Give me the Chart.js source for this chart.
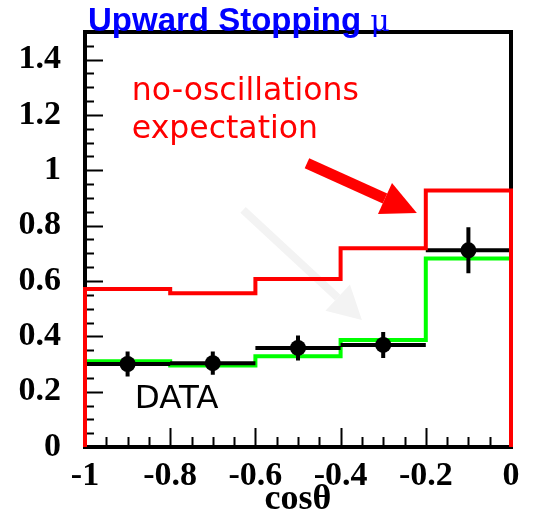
<!DOCTYPE html>
<html>
<head>
<meta charset="utf-8">
<script src="https://cdn.jsdelivr.net/npm/chart.js@4/dist/chart.umd.min.js"></script>
<style>
  html, body { margin: 0; padding: 0; background: #fff; }
</style>
</head>
<body>
<canvas id="chart" width="540" height="515"></canvas>
<script>
// Histogram bins in cos(theta)
const binEdges = [-1, -0.8, -0.6, -0.4, -0.2, 0];
const binCenters = [-0.9, -0.7, -0.5, -0.3, -0.1];

// Flux values per bin
const noOscValues = [0.571, 0.556, 0.607, 0.718, 0.927];
const oscValues = [0.31, 0.295, 0.328, 0.387, 0.681];
const dataValues = [0.30, 0.303, 0.358, 0.369, 0.711];
const dataErrors = [0.045, 0.042, 0.045, 0.047, 0.083];

// Axis ticks
const xTicks = [-1, -0.8, -0.6, -0.4, -0.2, 0];
const yTicks = [0, 0.2, 0.4, 0.6, 0.8, 1, 1.2, 1.4];

const serifFont = '"Liberation Serif", "DejaVu Serif", serif';
const sansFont = '"DejaVu Sans", "Liberation Sans", sans-serif';

// Build step outline for a histogram
function stepPoints(values, closed) {
  const pts = [];
  if (closed) pts.push({ x: binEdges[0], y: 0 });
  values.forEach((v, i) => {
    pts.push({ x: binEdges[i], y: v }, { x: binEdges[i + 1], y: v });
  });
  if (closed) pts.push({ x: binEdges[binEdges.length - 1], y: 0 });
  return pts;
}

// Separate horizontal bar per bin (gaps between)
function segmentPoints(values) {
  const pts = [];
  values.forEach((v, i) => {
    pts.push({ x: binEdges[i], y: v }, { x: binEdges[i + 1], y: v }, { x: binEdges[i + 1], y: null });
  });
  return pts;
}

function tickLabel(v) {
  return String(Math.round(v * 10) / 10);
}

function drawArrow(ctx, x1, y1, x2, y2, shaft, headLen, headHalf, color) {
  const ang = Math.atan2(y2 - y1, x2 - x1);
  const bx = x2 - headLen * Math.cos(ang);
  const by = y2 - headLen * Math.sin(ang);
  ctx.save();
  ctx.strokeStyle = color;
  ctx.fillStyle = color;
  ctx.lineWidth = shaft;
  ctx.beginPath();
  ctx.moveTo(x1, y1);
  ctx.lineTo(bx, by);
  ctx.stroke();
  ctx.beginPath();
  ctx.moveTo(x2, y2);
  ctx.lineTo(bx + headHalf * Math.sin(ang), by - headHalf * Math.cos(ang));
  ctx.lineTo(bx - headHalf * Math.sin(ang), by + headHalf * Math.cos(ang));
  ctx.closePath();
  ctx.fill();
  ctx.restore();
}

// Frame, inside ticks, annotations
const decorPlugin = {
  id: 'decor',
  beforeDatasetsDraw(chart) {
    const { ctx, chartArea: a, scales: { x, y } } = chart;
    ctx.save();
    ctx.strokeStyle = '#000';
    ctx.lineWidth = 4;
    ctx.strokeRect(a.left, a.top, a.right - a.left, a.bottom - a.top);

    ctx.lineWidth = 2;
    ctx.beginPath();
    for (let v = 0; v < 1.5; v += 0.05) {
      const major = Math.abs(v / 0.2 - Math.round(v / 0.2)) < 1e-6;
      const py = Math.round(y.getPixelForValue(v)) + 0.5;
      ctx.moveTo(a.left, py);
      ctx.lineTo(a.left + (major ? 18 : 9), py);
    }
    for (let v = -1; v <= 0.001; v += 0.05) {
      const major = Math.abs(v / 0.2 - Math.round(v / 0.2)) < 1e-6;
      const px = Math.round(x.getPixelForValue(v)) + 0.5;
      ctx.moveTo(px, a.bottom);
      ctx.lineTo(px, a.bottom - (major ? 19 : 10));
    }
    ctx.stroke();

    // faint oscillation arrow
    drawArrow(ctx, x.getPixelForValue(-0.629), y.getPixelForValue(0.857),
      x.getPixelForValue(-0.350), y.getPixelForValue(0.459), 8, 33, 18, '#f3f3f3');
    ctx.restore();
  },
  afterDatasetsDraw(chart) {
    const { ctx, chartArea: a, scales: { x, y } } = chart;
    ctx.save();
    // error bars
    ctx.strokeStyle = '#000';
    ctx.lineWidth = 4;
    ctx.beginPath();
    binCenters.forEach((c, i) => {
      const px = x.getPixelForValue(c);
      ctx.moveTo(px, y.getPixelForValue(dataValues[i] - dataErrors[i]));
      ctx.lineTo(px, y.getPixelForValue(dataValues[i] + dataErrors[i]));
    });
    ctx.stroke();

    // red arrow toward expectation
    drawArrow(ctx, x.getPixelForValue(-0.479), y.getPixelForValue(1.026),
      x.getPixelForValue(-0.221), y.getPixelForValue(0.846), 11, 35, 17, '#ff0000');

    ctx.textAlign = 'left';
    ctx.textBaseline = 'alphabetic';
    ctx.fillStyle = '#ff0000';
    ctx.font = '31.5px ' + sansFont;
    ctx.fillText('no-oscillations', x.getPixelForValue(-0.890), y.getPixelForValue(1.254));
    ctx.fillText('expectation', x.getPixelForValue(-0.890), y.getPixelForValue(1.117));

    ctx.fillStyle = '#000';
    ctx.font = '32.5px ' + sansFont;
    ctx.fillText('DATA', x.getPixelForValue(-0.883), y.getPixelForValue(0.141));

    // title
    ctx.fillStyle = '#0000ff';
    ctx.font = 'bold 33px "Liberation Sans", Arial, sans-serif';
    const t = 'Upward Stopping ';
    ctx.fillText(t, a.left + 3, a.top - 1);
    const tw = ctx.measureText(t).width;
    ctx.font = '30px "DejaVu Serif", serif';
    ctx.fillText('\u03bc', a.left + 3 + tw, a.top - 1);

    // x axis title
    ctx.fillStyle = '#000';
    ctx.textAlign = 'center';
    ctx.font = 'bold 36px ' + serifFont;
    ctx.fillText('cos\u03b8', (a.left + a.right) / 2, 509);
    ctx.restore();
  }
};

new Chart(document.getElementById('chart'), {
  type: 'line',
  data: {
    datasets: [
      {
        data: binCenters.map((c, i) => ({ x: c, y: dataValues[i] })),
        showLine: false,
        pointRadius: 8,
        pointBackgroundColor: '#000',
        pointBorderWidth: 0,
        order: 0,
        clip: false
      },
      {
        data: stepPoints(noOscValues, true),
        borderColor: '#ff0000',
        borderWidth: 4,
        pointRadius: 0,
        order: 1,
        clip: false
      },
      {
        data: segmentPoints(dataValues),
        borderColor: '#000',
        borderWidth: 4,
        pointRadius: 0,
        spanGaps: false,
        order: 2,
        clip: false
      },
      {
        data: stepPoints(oscValues, false),
        borderColor: '#00ff00',
        borderWidth: 4,
        pointRadius: 0,
        order: 3,
        clip: false
      }
    ]
  },
  options: {
    responsive: false,
    animation: false,
    devicePixelRatio: 1,
    layout: { padding: { top: 32, right: 29, left: 0, bottom: 0 } },
    plugins: { legend: { display: false }, tooltip: { enabled: false } },
    elements: { line: { tension: 0, borderJoinStyle: 'miter' } },
    scales: {
      x: {
        type: 'linear',
        min: -1,
        max: 0,
        grid: { display: false, drawTicks: false },
        border: { display: false },
        afterBuildTicks: axis => { axis.ticks = xTicks.map(v => ({ value: v })); },
        afterFit: axis => { axis.height = 68; axis.paddingLeft = 0; axis.paddingRight = 0; },
        ticks: {
          autoSkip: false,
          maxRotation: 0,
          padding: 9,
          color: '#000',
          callback: tickLabel,
          font: { family: serifFont, weight: 'bold', size: 34 }
        }
      },
      y: {
        min: 0,
        max: 1.5,
        grid: { display: false, drawTicks: false },
        border: { display: false },
        afterBuildTicks: axis => { axis.ticks = yTicks.map(v => ({ value: v })); },
        afterFit: axis => { axis.width = 85; axis.paddingTop = 0; axis.paddingBottom = 0; },
        ticks: {
          autoSkip: false,
          padding: 24,
          color: '#000',
          callback: tickLabel,
          font: { family: serifFont, weight: 'bold', size: 34 }
        }
      }
    }
  },
  plugins: [decorPlugin]
});
</script>
</body>
</html>
